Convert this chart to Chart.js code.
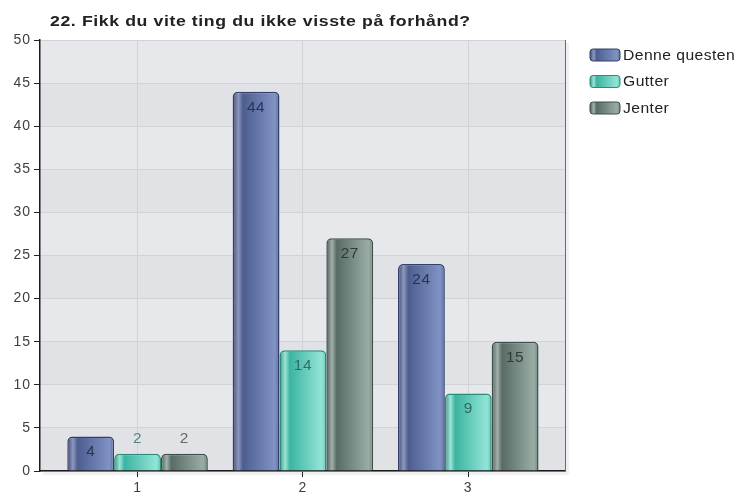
<!DOCTYPE html>
<html>
<head>
<meta charset="utf-8">
<script src="https://cdn.jsdelivr.net/npm/chart.js@4.4.1/dist/chart.umd.min.js"></script>
<style>
  html, body { margin: 0; padding: 0; background: #fff; }
  #wrap { width: 739px; height: 495px; position: relative; }
</style>
</head>
<body>
<div id="wrap"><canvas id="myChart"></canvas></div>
<script>
var chartTitle = "22. Fikk du vite ting du ikke visste på forhånd?";
var categories = ["1", "2", "3"];
var seriesNames = ["Denne questen", "Gutter", "Jenter"];
var denneQuesten = [4, 44, 24];
var gutter = [2, 14, 9];
var jenter = [2, 27, 15];

// gradient stops per series: [offset, colour]
var barShades = [
    [[0, "#3d4a78"], [0.12, "#8d98bb"], [0.22, "#4d5d90"], [0.9, "#8093c4"], [1, "#5f6fa3"]],
    [[0, "#2f9a89"], [0.12, "#9fe3d6"], [0.22, "#3cb4a1"], [0.9, "#92e4d6"], [1, "#5fc8b7"]],
    [[0, "#4d5f59"], [0.12, "#a3b1ac"], [0.22, "#586b64"], [0.9, "#9aaca6"], [1, "#73857f"]]
];
var barBorders = ["#34406a", "#2b8c7c", "#3f504b"];
var labelColors = ["#2b3352", "#2f6c63", "#2e3b37"];
var outsideLabelColors = ["#4a5a8c", "#4f8a80", "#5d6e69"];
var fontFamily = "'Liberation Sans', Arial, sans-serif";

function points(values) {
    return values.map(function (v, i) { return { x: i + 1, y: v }; });
}

function makeGradient(ctx, left, right, stops) {
    var g = ctx.createLinearGradient(left, 0, right, 0);
    stops.forEach(function (s) { g.addColorStop(s[0], s[1]); });
    return g;
}

// text drawn a little wider, like the reference rendering
function wideText(ctx, text, x, y, stretch) {
    ctx.save();
    ctx.translate(x, y);
    ctx.scale(stretch, 1);
    ctx.fillText(text, 0, 0);
    ctx.restore();
}

var seriesValues = [denneQuesten, gutter, jenter];

var backgroundPlugin = {
    id: "bands",
    beforeDraw: function (chart) {
        var ctx = chart.ctx, a = chart.chartArea, y = chart.scales.y;
        ctx.letterSpacing = "1px";
        ctx.save();
        // soft shadow under the plot
        ctx.fillStyle = "#f0f0f0";
        ctx.fillRect(a.left + 3, a.bottom, a.right - a.left, 4);
        ctx.fillRect(a.right, a.top + 3, 4, a.bottom - a.top);
        for (var v = 0; v < 50; v += 5) {
            var top = y.getPixelForValue(v + 5), bottom = y.getPixelForValue(v);
            ctx.fillStyle = (v / 5) % 2 === 0 ? "#e1e2e5" : "#e6e8eb";
            ctx.fillRect(a.left, top, a.right - a.left, bottom - top);
        }
        ctx.restore();
    },
    afterDatasetsDraw: function (chart) {
        var ctx = chart.ctx, a = chart.chartArea;
        ctx.save();
        ctx.strokeStyle = "#6a6a6a";
        ctx.lineWidth = 1;
        ctx.beginPath();
        ctx.moveTo(a.right + 0.5, a.top);
        ctx.lineTo(a.right + 0.5, a.bottom);
        ctx.stroke();
        ctx.restore();
    }
};

var gradientPlugin = {
    id: "barGradient",
    beforeDatasetsDraw: function (chart) {
        var ctx = chart.ctx;
        chart.data.datasets.forEach(function (ds, d) {
            chart.getDatasetMeta(d).data.forEach(function (el) {
                var p = el.getProps(["x", "width"], true);
                var g = makeGradient(ctx, p.x - p.width / 2, p.x + p.width / 2, barShades[d]);
                el.options = Object.assign({}, el.options, { backgroundColor: g });
            });
        });
    }
};

var labelPlugin = {
    id: "valueLabels",
    afterDatasetsDraw: function (chart) {
        var ctx = chart.ctx;
        ctx.save();
        ctx.font = "14px " + fontFamily;
        ctx.letterSpacing = "0.5px";
        ctx.textAlign = "center";
        ctx.textBaseline = "middle";
        chart.data.datasets.forEach(function (ds, d) {
            chart.getDatasetMeta(d).data.forEach(function (el, i) {
                var p = el.getProps(["x", "y", "base"], true);
                var val = seriesValues[d][i];
                if (p.base - p.y > 28) {
                    ctx.fillStyle = labelColors[d];
                    wideText(ctx, String(val), p.x, p.y + 16, 1.1);
                } else {
                    ctx.fillStyle = outsideLabelColors[d];
                    wideText(ctx, String(val), p.x, p.y - 15, 1.1);
                }
            });
        });
        ctx.restore();
    }
};

var titleLegendPlugin = {
    id: "titleLegend",
    afterDraw: function (chart) {
        var ctx = chart.ctx;
        ctx.save();
        ctx.fillStyle = "#222";
        ctx.font = "bold 15px " + fontFamily;
        ctx.letterSpacing = "0.5px";
        ctx.textAlign = "left";
        ctx.textBaseline = "middle";
        wideText(ctx, chartTitle, 50, 22, 1.18);

        ctx.font = "14px " + fontFamily;
        ctx.letterSpacing = "0.4px";
        seriesNames.forEach(function (name, d) {
            var cy = 55 + d * 26.5;
            var x0 = 590, w = 30, h = 12;
            ctx.beginPath();
            ctx.roundRect(x0, cy - h / 2, w, h, 3);
            ctx.fillStyle = makeGradient(ctx, x0, x0 + w, barShades[d]);
            ctx.fill();
            ctx.lineWidth = 1;
            ctx.strokeStyle = barBorders[d];
            ctx.stroke();
            ctx.fillStyle = "#222";
            wideText(ctx, name, 623, cy + 1, 1.12);
        });
        ctx.restore();
    }
};

var ctx = document.getElementById("myChart");

new Chart(ctx, {
    type: "bar",
    data: {
        datasets: seriesNames.map(function (name, d) {
            return {
                label: name,
                data: points(seriesValues[d]),
                backgroundColor: barShades[d][3][1],
                borderColor: barBorders[d],
                borderWidth: 1.5,
                borderRadius: { topLeft: 5, topRight: 5 },
                borderSkipped: "bottom",
                categoryPercentage: 0.85,
                barPercentage: 1
            };
        })
    },
    options: {
        responsive: true,
        maintainAspectRatio: false,
        animation: false,
        layout: { padding: { top: 40, right: 174, left: 0, bottom: 0 } },
        plugins: {
            legend: { display: false },
            title: { display: false },
            tooltip: { enabled: false }
        },
        scales: {
            x: {
                type: "linear",
                offset: false,
                min: 0.41,
                max: 3.585,
                afterBuildTicks: function (scale) {
                    scale.ticks = categories.map(function (c, i) { return { value: i + 1 }; });
                },
                afterFit: function (scale) { scale.height = 24; },
                ticks: {
                    callback: function (v) { return categories[v - 1]; },
                    color: "#404040",
                    font: { size: 14, family: fontFamily },
                    padding: 3,
                    maxRotation: 0
                },
                grid: {
                    offset: false,
                    color: "#d2d3d6",
                    tickColor: "#222",
                    tickLength: 6,
                    drawTicks: true
                },
                border: { color: "#1a1a1a", width: 1.5 }
            },
            y: {
                min: 0,
                max: 50,
                afterFit: function (scale) { scale.width = 40; },
                ticks: {
                    stepSize: 5,
                    color: "#404040",
                    font: { size: 14, family: fontFamily },
                    padding: 3
                },
                grid: {
                    color: "#d2d3d6",
                    tickColor: "#222",
                    tickLength: 6
                },
                border: { color: "#1a1a1a", width: 1.5 }
            }
        }
    },
    plugins: [backgroundPlugin, gradientPlugin, labelPlugin, titleLegendPlugin]
});
</script>
</body>
</html>
